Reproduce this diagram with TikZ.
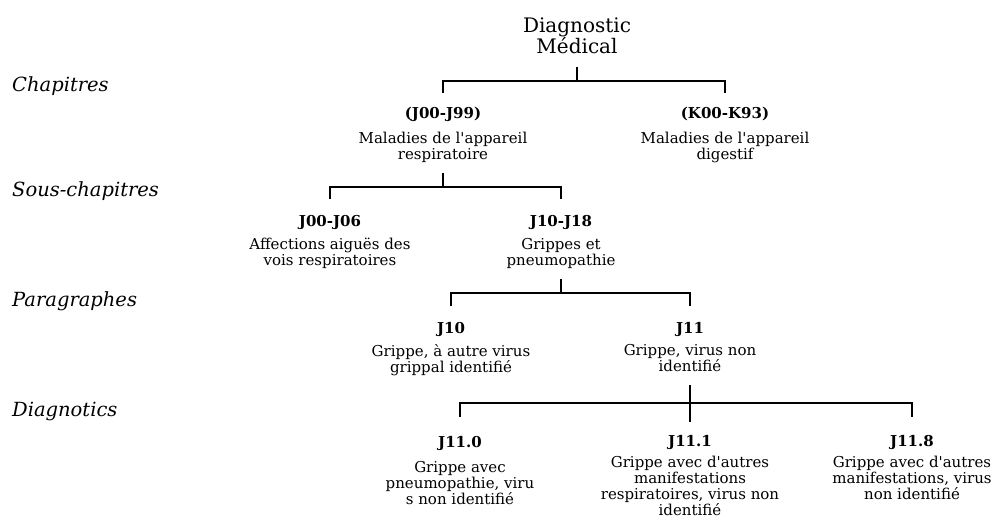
\documentclass[tikz,border=0pt]{standalone}
\usepackage{fontspec}
\setmainfont{DejaVu Serif}
\newcommand{\apos}{\textquotesingle}
\begin{document}
\begin{tikzpicture}[x=1pt,y=-1pt,
  code/.style={font=\bfseries\fontsize{15}{17}\selectfont, inner sep=0pt, anchor=center},
  desc/.style={font=\fontsize{15}{16}\selectfont, align=center, inner sep=0pt, anchor=north},
  level/.style={font=\itshape\fontsize{19.5}{22}\selectfont, anchor=west, inner sep=0pt},
  bar/.style={line width=2.8pt, line join=miter},
]
\path[use as bounding box] (0,0) rectangle (999,524);

% level names on the left
\node[level] (lv1) at (12,86)  {Chapitres};
\node[level] (lv2) at (12,191) {Sous-chapitres};
\node[level] (lv3) at (12,301) {Paragraphes};
\node[level] (lv4) at (12,411) {Diagnotics};

% root
\node[font=\fontsize{20}{20}\selectfont, align=center, inner sep=0pt] (root) at (577,36) {Diagnostic\\Médical};

% chapters
\node[code] (c1) at (443,114) {(J00-J99)};
\node[desc] (d1) at (443,132) {Maladies de l\apos appareil\\respiratoire};
\node[code] (c2) at (725,114) {(K00-K93)};
\node[desc] (d2) at (725,132) {Maladies de l\apos appareil\\digestif};

% sub-chapters
\node[code] (c3) at (330,222) {J00-J06};
\node[desc] (d3) at (330,238) {Affections aiguës des\\vois respiratoires};
\node[code] (c4) at (561,222) {J10-J18};
\node[desc] (d4) at (561,238) {Grippes et\\pneumopathie};

% paragraphs
\node[code] (c5) at (451,329) {J10};
\node[desc] (d5) at (451,344) {Grippe, à autre virus\\grippal identifié};
\node[code] (c6) at (690,329) {J11};
\node[desc] (d6) at (690,344) {Grippe, virus non\\identifié};

% diagnostics
\node[code] (c7) at (460,443) {J11.0};
\node[desc] (d7) at (460,461) {Grippe avec\\pneumopathie, viru\\s non identifié};
\node[code] (c8) at (690,442) {J11.1};
\node[desc] (d8) at (690,456) {Grippe avec d\apos autres\\manifestations\\respiratoires, virus non\\identifié};
\node[code] (c9) at (912,442) {J11.8};
\node[desc] (d9) at (912,456) {Grippe avec d\apos autres\\manifestations, virus\\non identifié};

% bracket anchor points
\coordinate (s1) at (577,67);  \coordinate (m1) at (577,81);
\coordinate (t1) at (443,93);  \coordinate (t2) at (725,93);
\coordinate (s2) at (443,173); \coordinate (m2) at (443,187);
\coordinate (t3) at (330,199); \coordinate (t4) at (561,199);
\coordinate (s3) at (561,279); \coordinate (m3) at (561,293);
\coordinate (t5) at (451,306); \coordinate (t6) at (690,306);
\coordinate (s4) at (690,385); \coordinate (m4) at (690,403);
\coordinate (t7) at (460,417); \coordinate (t8) at (690,422); \coordinate (t9) at (912,417);

% brackets
\draw[bar] (s1) -- (m1);
\draw[bar] (t1) |- (m1) -| (t2);
\draw[bar] (s2) -- (m2);
\draw[bar] (t3) |- (m2) -| (t4);
\draw[bar] (s3) -- (m3);
\draw[bar] (t5) |- (m3) -| (t6);
\draw[bar] (s4) -- (t8);
\draw[bar] (t7) |- (m4) -| (t9);
\end{tikzpicture}
\end{document}
